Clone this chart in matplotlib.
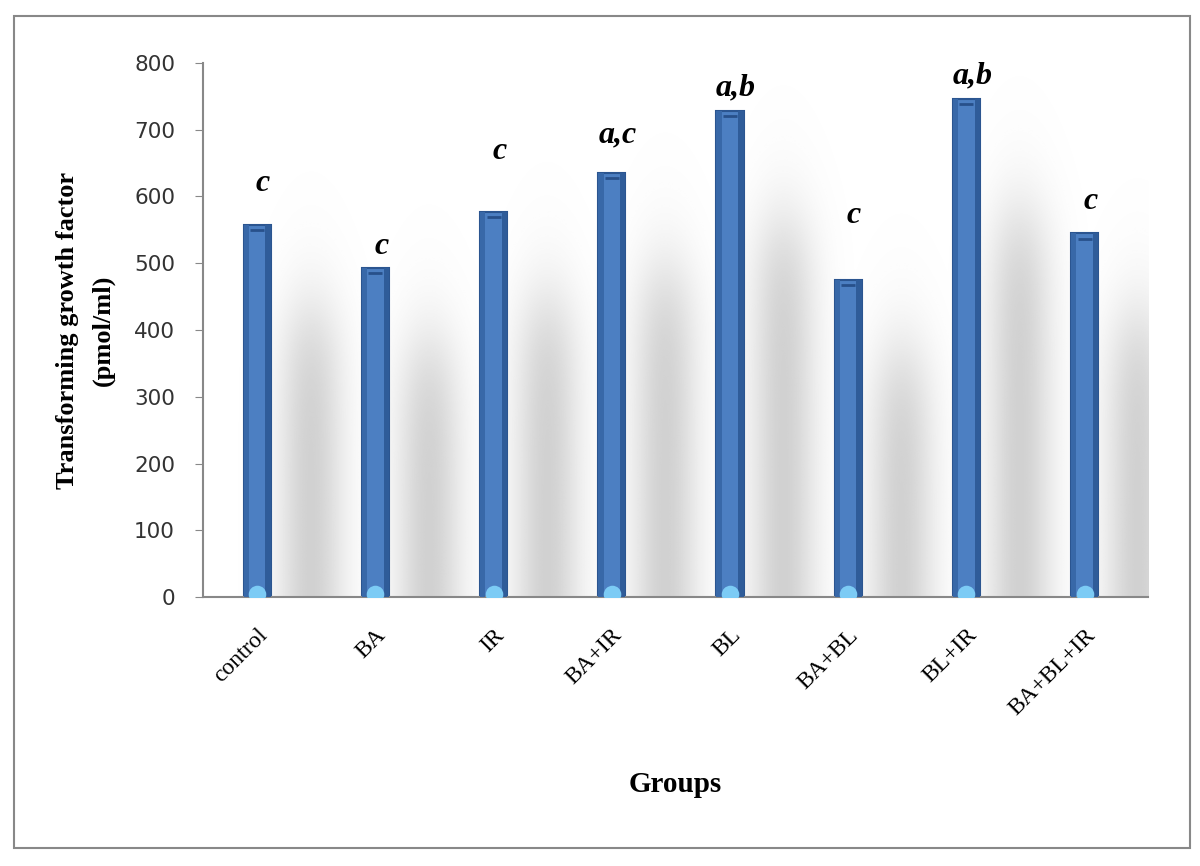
import numpy as np
import matplotlib
matplotlib.use("Agg")
from matplotlib import pyplot as plt
from matplotlib.patches import Rectangle

groups = ["control", "BA", "IR", "BA+IR", "BL", "BA+BL", "BL+IR", "BA+BL+IR"]
tgf = [558, 493, 577, 635, 728, 475, 746, 545]
letters = ["c", "c", "c", "a,c", "a,b", "c", "a,b", "c"]
# vertical gap (data units) between bar top and its letter label
letter_gap = [62, 32, 90, 57, 35, 96, 34, 47]
yticks = [0, 100, 200, 300, 400, 500, 600, 700, 800]

fig = plt.figure(figsize=(12, 8.66), dpi=100)
ax = fig.add_axes([0.169, 0.3106, 0.788, 0.6167])

x = np.arange(len(groups)) - 0.04
ax.set_xlim(-0.5, len(groups) - 0.5)
ax.set_ylim(0, 800)

# soft grey shadow behind each bar (blurred, shifted right)
gx = np.linspace(-0.5, len(groups) - 0.5, 800)
gy = np.linspace(0, 800, 400)
GX, GY = np.meshgrid(gx, gy)
shade = np.zeros_like(GX)
for xi, v in zip(x, tgf):
    top = v * 0.76
    horiz = np.exp(-((GX - (xi + 0.45)) ** 2) / (2 * 0.2 ** 2))
    vert = 1 / (1 + np.exp((GY - top) / 45))
    shade = np.maximum(shade, horiz * vert)
rgba = np.zeros(GX.shape + (4,))
rgba[..., :3] = 0.6
rgba[..., 3] = shade * 0.45
ax.imshow(rgba, extent=(-0.5, len(groups) - 0.5, 0, 800), origin="lower",
          aspect="auto", zorder=0, interpolation="bilinear")

bw = 0.23
ax.bar(x, tgf, width=bw, color="#4c7fc2", edgecolor="#2b5590", linewidth=1.5, zorder=2)
# darker side strips to hint the cylinder look
ax.bar(x - bw * 0.4, tgf, width=bw * 0.2, color="#3868a8", linewidth=0, zorder=3)
ax.bar(x + bw * 0.4, tgf, width=bw * 0.2, color="#2f5c99", linewidth=0, zorder=3)
# light blue caps at the base
ax.scatter(x, [4] * len(x), s=160, marker="o", color="#7ccbf5", zorder=4,
           linewidths=0, clip_on=True)
ax.scatter(x, np.array(tgf) - 8, s=110, marker="_", color="#28508a", zorder=4, linewidths=2)

for xi, v, lab, g in zip(x, tgf, letters, letter_gap):
    ax.text(xi + 0.05, v + g, lab, ha="center", va="center", fontsize=23,
            fontstyle="italic", fontweight="bold", family="Liberation Serif", zorder=5)

ax.set_yticks(yticks)
ax.set_yticklabels([str(t) for t in yticks], fontsize=15.5, family="DejaVu Sans",
                   color="#333333")
ax.set_xticks(x)
ax.set_xticklabels(groups, rotation=45, ha="right", rotation_mode="anchor",
                   fontsize=17, family="Liberation Serif")
ax.tick_params(axis="x", length=0, pad=20)
ax.tick_params(axis="y", length=6, color="#888888", pad=14)

for s in ["top", "right"]:
    ax.spines[s].set_visible(False)
ax.spines["left"].set_color("#888888")
ax.spines["bottom"].set_color("#888888")
ax.spines["left"].set_linewidth(1.5)
ax.spines["bottom"].set_linewidth(1.5)

ax.set_ylabel("Transforming growth factor\n(pmol/ml)", fontsize=19, fontweight="bold",
              family="Liberation Serif", labelpad=14, linespacing=1.7)
fig.text(0.5625, 0.094, "Groups", ha="center", va="center", fontsize=21,
         fontweight="bold", family="Liberation Serif")

fig.patches.append(Rectangle((0.012, 0.021), 0.98, 0.961, transform=fig.transFigure,
                             fill=False, edgecolor="#888888", linewidth=1.5))

fig.savefig("out.png", dpi=100)
